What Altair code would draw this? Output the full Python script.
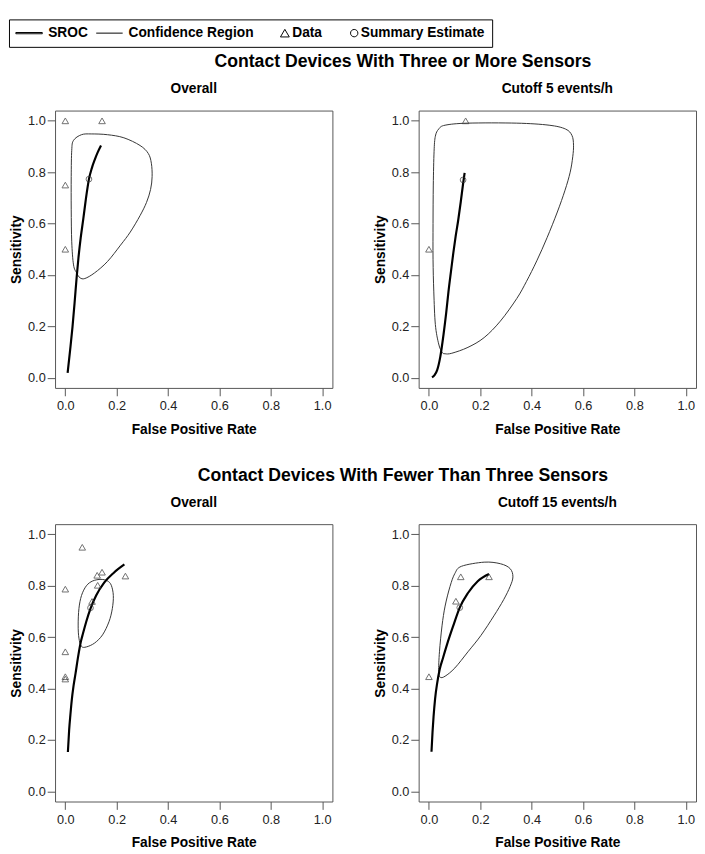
import altair as alt
import pandas as pd

FONT = "Liberation Sans, Arial, sans-serif"

# ---------------- data ----------------
legend_items = ["SROC", "Confidence Region", "Data", "Summary Estimate"]
axis_ticks = [0.0, 0.2, 0.4, 0.6, 0.8, 1.0]
section_titles = ["Contact Devices With Three or More Sensors",
                  "Contact Devices With Fewer Than Three Sensors"]
panel_titles = ["Overall", "Cutoff 5 events/h", "Overall", "Cutoff 15 events/h"]

# Panel 1: three or more sensors, overall
p1_data_fpr = [0.0, 0.143, 0.0, 0.0]
p1_data_sens = [1.0, 1.0, 0.75, 0.50]
p1_sum_fpr = [0.092]
p1_sum_sens = [0.773]
p1_sroc_fpr = [0.009, 0.019, 0.028, 0.036, 0.044, 0.051, 0.060, 0.070, 0.080, 0.092, 0.103, 0.114, 0.126, 0.139]
p1_sroc_sens = [0.019, 0.110, 0.198, 0.290, 0.389, 0.465, 0.545, 0.618, 0.695, 0.773, 0.815, 0.847, 0.877, 0.904]
p1_cr_fpr = [0.032, 0.063, 0.101, 0.164, 0.228, 0.291, 0.323, 0.335, 0.338, 0.332, 0.316, 0.291,
             0.253, 0.215, 0.164, 0.114, 0.076, 0.057, 0.044, 0.032, 0.025, 0.023, 0.023, 0.025]
p1_cr_sens = [0.924, 0.946, 0.949, 0.946, 0.934, 0.904, 0.873, 0.835, 0.783, 0.733, 0.682, 0.631,
              0.567, 0.516, 0.452, 0.408, 0.386, 0.389, 0.408, 0.439, 0.529, 0.656, 0.783, 0.885]

# Panel 2: three or more sensors, cutoff 5 events/h
p2_data_fpr = [0.143, 0.0]
p2_data_sens = [1.0, 0.50]
p2_sum_fpr = [0.133]
p2_sum_sens = [0.770]
p2_sroc_fpr = [0.012, 0.022, 0.032, 0.044, 0.057, 0.067, 0.076, 0.086, 0.095, 0.104, 0.114, 0.124, 0.133, 0.139]
p2_sroc_sens = [0.001, 0.010, 0.029, 0.080, 0.169, 0.250, 0.334, 0.415, 0.486, 0.550, 0.613, 0.685, 0.755, 0.797]
p2_cr_fpr = [0.038, 0.063, 0.152, 0.342, 0.468, 0.532, 0.557, 0.563, 0.560, 0.550, 0.530, 0.500,
             0.460, 0.420, 0.380, 0.342, 0.278, 0.215, 0.152, 0.089, 0.063, 0.051, 0.038, 0.025,
             0.019, 0.016, 0.016, 0.017, 0.020, 0.025]
p2_cr_sens = [0.968, 0.983, 0.991, 0.991, 0.983, 0.968, 0.943, 0.905, 0.860, 0.800, 0.730, 0.645,
              0.545, 0.455, 0.375, 0.308, 0.220, 0.156, 0.118, 0.095, 0.093, 0.099, 0.131, 0.207,
              0.334, 0.461, 0.600, 0.750, 0.880, 0.940]

# Panel 3: fewer than three sensors, overall
p3_data_fpr = [0.066, 0.0, 0.124, 0.143, 0.234, 0.126, 0.104, 0.0, 0.0, 0.0]
p3_data_sens = [0.950, 0.787, 0.841, 0.853, 0.838, 0.802, 0.739, 0.543, 0.446, 0.437]
p3_sum_fpr = [0.098]
p3_sum_sens = [0.714]
p3_sroc_fpr = [0.010, 0.015, 0.020, 0.025, 0.032, 0.040, 0.050, 0.060, 0.069, 0.082, 0.098, 0.120, 0.152, 0.189, 0.230]
p3_sroc_sens = [0.153, 0.240, 0.300, 0.354, 0.410, 0.460, 0.525, 0.580, 0.615, 0.662, 0.711, 0.762, 0.813, 0.851, 0.883]
p3_cr_fpr = [0.139, 0.164, 0.179, 0.187, 0.183, 0.170, 0.145, 0.114, 0.082, 0.063, 0.053, 0.050,
             0.053, 0.063, 0.082, 0.107]
p3_cr_sens = [0.825, 0.819, 0.802, 0.762, 0.711, 0.660, 0.609, 0.577, 0.562, 0.564, 0.596, 0.647,
              0.711, 0.762, 0.800, 0.819]

# Panel 4: fewer than three sensors, cutoff 15 events/h
p4_data_fpr = [0.0, 0.124, 0.105, 0.234]
p4_data_sens = [0.446, 0.835, 0.740, 0.835]
p4_sum_fpr = [0.120]
p4_sum_sens = [0.715]
p4_sroc_fpr = [0.010, 0.014, 0.018, 0.024, 0.032, 0.042, 0.055, 0.070, 0.095, 0.120, 0.152, 0.190, 0.234]
p4_sroc_sens = [0.154, 0.230, 0.290, 0.360, 0.420, 0.475, 0.520, 0.570, 0.645, 0.715, 0.772, 0.818, 0.846]
p4_cr_fpr = [0.127, 0.215, 0.278, 0.316, 0.327, 0.316, 0.291, 0.253, 0.202, 0.152, 0.101, 0.063,
             0.044, 0.038, 0.041, 0.051, 0.063, 0.082, 0.101]
p4_cr_sens = [0.876, 0.892, 0.886, 0.867, 0.835, 0.797, 0.746, 0.683, 0.606, 0.543, 0.480, 0.448,
              0.444, 0.467, 0.543, 0.644, 0.721, 0.797, 0.848]

# ---------------- legend symbols (path units = 4 px) ----------------
sym_thick = "M-1.75,-0.16H5V0.16H-1.75Z"
sym_thin = "M-1.75,0H5"
sym_tri = "M4.62,-0.97L5.75,0.97L3.5,0.97Z"
sym_circ = "M3.87,0A0.94,0.94,0,1,0,5.75,0A0.94,0.94,0,1,0,3.87,0Z"
shape_scale = alt.Scale(domain=legend_items, range=[sym_thick, sym_thin, sym_tri, sym_circ])

legend = alt.Legend(
    orient="right", offset=-48, direction="horizontal", columns=4, title=None,
    strokeColor="black", padding=7, symbolSize=64, symbolStrokeWidth=1,
    symbolStrokeColor="black", symbolFillColor="transparent", symbolOffset=0,
    labelFont=FONT, labelFontSize=14, labelFontWeight="bold", labelColor="black",
    labelOffset=19, columnPadding=6,
)

PW, PH = 283, 283
SCALE_DOM = [-0.04, 1.04]


def panel(k, d_fpr, d_sens, s_fpr, s_sens, r_fpr, r_sens, c_fpr, c_sens):
    xs = alt.Scale(domain=SCALE_DOM, nice=False, zero=False)
    ys = alt.Scale(domain=SCALE_DOM, nice=False, zero=False)
    xenc = alt.X("fpr:Q", scale=xs,
                 axis=alt.Axis(title="False Positive Rate", values=axis_ticks, format=".1f"))
    yenc = alt.Y("sens:Q", scale=ys,
                 axis=alt.Axis(title="Sensitivity", values=axis_ticks, format=".1f"))

    cr = pd.DataFrame({"fpr": c_fpr, "sens": c_sens, "ord": list(range(len(c_fpr)))})
    sroc = pd.DataFrame({"fpr": r_fpr, "sens": r_sens, "ord": list(range(len(r_fpr)))})
    dat = pd.DataFrame({"fpr": d_fpr, "sens": d_sens})
    summ = pd.DataFrame({"fpr": s_fpr, "sens": s_sens})

    layers = [
        alt.Chart(cr).mark_line(interpolate="cardinal-closed", color="#333", strokeWidth=1)
        .encode(x=xenc, y=yenc, order="ord:Q"),
        alt.Chart(sroc).mark_line(interpolate="monotone", color="black", strokeWidth=2.2)
        .encode(x=xenc, y=yenc, order="ord:Q"),
        alt.Chart(dat).mark_point(shape="triangle-up", filled=False, color="#333", size=45, strokeWidth=1)
        .encode(x=xenc, y=yenc),
        alt.Chart(summ).mark_point(shape="circle", filled=False, color="#333", size=34, strokeWidth=1)
        .encode(x=xenc, y=yenc),
    ]
    return alt.layer(*layers).properties(
        width=PW, height=PH,
        title=alt.TitleParams(panel_titles[k], fontSize=14, offset=15),
    )


p1 = panel(0, p1_data_fpr, p1_data_sens, p1_sum_fpr, p1_sum_sens, p1_sroc_fpr, p1_sroc_sens, p1_cr_fpr, p1_cr_sens)
p2 = panel(1, p2_data_fpr, p2_data_sens, p2_sum_fpr, p2_sum_sens, p2_sroc_fpr, p2_sroc_sens, p2_cr_fpr, p2_cr_sens)
p3 = panel(2, p3_data_fpr, p3_data_sens, p3_sum_fpr, p3_sum_sens, p3_sroc_fpr, p3_sroc_sens, p3_cr_fpr, p3_cr_sens)
p4 = panel(3, p4_data_fpr, p4_data_sens, p4_sum_fpr, p4_sum_sens, p4_sroc_fpr, p4_sroc_sens, p4_cr_fpr, p4_cr_sens)

# legend holder: a tiny invisible view carrying only the legend
legend_chart = alt.Chart(pd.DataFrame({"kind": legend_items})).mark_point(
    opacity=0, filled=False, color="black"
).encode(
    shape=alt.Shape("kind:N", scale=shape_scale, legend=legend)
).properties(width=1, height=1, view=alt.ViewBackground(strokeWidth=0, stroke="transparent"))

row1 = alt.hconcat(p1, p2, spacing=40).properties(
    title=alt.TitleParams(section_titles[0], fontSize=18, anchor="middle", offset=11, dx=51))
row2 = alt.hconcat(p3, p4, spacing=40).properties(
    title=alt.TitleParams(section_titles[1], fontSize=18, anchor="middle", offset=11, dx=51))

body = alt.vconcat(row1, row2, spacing=30)

chart = alt.vconcat(legend_chart, body, spacing=5).resolve_scale(shape="independent").properties(
    padding=0
).configure_view(
    stroke="#555", strokeWidth=1
).configure_axis(
    domain=False, grid=False, ticks=True, tickSize=8, tickColor="#555",
    labelFont=FONT, labelFontSize=13, labelColor="#222", labelPadding=2,
    titleFont=FONT, titleFontSize=14, titleFontWeight="bold", titleColor="black",
).configure_axisX(titlePadding=10, labelPadding=4).configure_axisY(titlePadding=4).configure_title(
    font=FONT, fontWeight="bold", color="black"
)

chart.save("out.html", embed_options={"renderer": "svg", "actions": False})
